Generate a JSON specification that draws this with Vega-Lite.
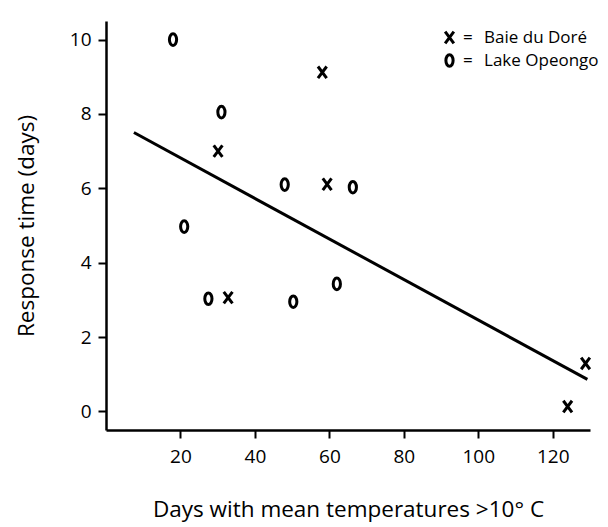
{
  "$schema": "https://vega.github.io/schema/vega-lite/v6.json",
  "autosize": "none",
  "width": 484,
  "height": 409,
  "padding": {"left": 106, "top": 21, "right": 18, "bottom": 97},
  "background": "white",
  "config": {
    "view": {"stroke": null},
    "font": "Open Sans",
    "axis": {
      "grid": false,
      "domainColor": "black",
      "domainWidth": 2.5,
      "tickColor": "black",
      "tickWidth": 2,
      "tickSize": 8,
      "labelColor": "black",
      "labelFont": "Open Sans",
      "labelFontSize": 19,
      "labelFontWeight": 500,
      "titleColor": "black",
      "titleFont": "Open Sans",
      "titleFontWeight": "normal"
    }
  },
  "datasets": {
    "pts": [
      {"days": 18, "resp": 10.0, "site": "Lake Opeongo"},
      {"days": 31, "resp": 8.05, "site": "Lake Opeongo"},
      {"days": 21, "resp": 4.97, "site": "Lake Opeongo"},
      {"days": 27.5, "resp": 3.03, "site": "Lake Opeongo"},
      {"days": 48, "resp": 6.1, "site": "Lake Opeongo"},
      {"days": 66.3, "resp": 6.03, "site": "Lake Opeongo"},
      {"days": 50.3, "resp": 2.95, "site": "Lake Opeongo"},
      {"days": 62, "resp": 3.43, "site": "Lake Opeongo"},
      {"days": 30.1, "resp": 7.0, "site": "Baie du Doré"},
      {"days": 32.8, "resp": 3.06, "site": "Baie du Doré"},
      {"days": 58.1, "resp": 9.12, "site": "Baie du Doré"},
      {"days": 59.4, "resp": 6.11, "site": "Baie du Doré"},
      {"days": 128.8, "resp": 1.29, "site": "Baie du Doré"},
      {"days": 124, "resp": 0.13, "site": "Baie du Doré"}
    ],
    "fit": [
      {"days": 7.5, "resp": 7.5},
      {"days": 129.3, "resp": 0.86}
    ]
  },
  "layer": [
    {
      "data": {"name": "fit"},
      "mark": {"type": "line", "color": "black", "strokeWidth": 3},
      "encoding": {
        "x": {"field": "days", "type": "quantitative"},
        "y": {"field": "resp", "type": "quantitative"}
      }
    },
    {
      "data": {"name": "pts"},
      "mark": {"type": "point", "filled": false, "stroke": "black", "strokeWidth": 3, "size": 135, "opacity": 1},
      "encoding": {
        "x": {
          "field": "days", "type": "quantitative",
          "scale": {"domain": [0, 130], "nice": false, "zero": false},
          "axis": {"values": [20, 40, 60, 80, 100, 120], "title": "Days with mean temperatures >10° C", "titleFontSize": 22.5, "titlePadding": 32, "labelPadding": 9}
        },
        "y": {
          "field": "resp", "type": "quantitative",
          "scale": {"domain": [-0.5, 10.5], "nice": false, "zero": false},
          "axis": {"values": [0, 2, 4, 6, 8, 10], "title": "Response time (days)", "titleFontSize": 22.5, "titlePadding": 31, "labelPadding": 7}
        },
        "shape": {
          "field": "site", "type": "nominal",
          "scale": {
            "domain": ["Baie du Doré", "Lake Opeongo"],
            "range": ["M-0.75,-1L0.75,1M0.75,-1L-0.75,1", "M0,-1A0.62,1,0,1,1,0,1A0.62,1,0,1,1,0,-1Z"]
          },
          "legend": {
            "orient": "none",
            "legendX": 335,
            "legendY": 8,
            "title": null,
            "labelExpr": "'=\u2002\u2009' + datum.label",
            "labelFont": "Open Sans",
            "labelFontSize": 17,
            "labelColor": "black",
            "symbolStrokeColor": "black",
            "symbolStrokeWidth": 3,
            "symbolSize": 135,
            "symbolFillColor": "transparent",
            "rowPadding": -2,
            "labelOffset": 5
          }
        }
      }
    }
  ]
}
